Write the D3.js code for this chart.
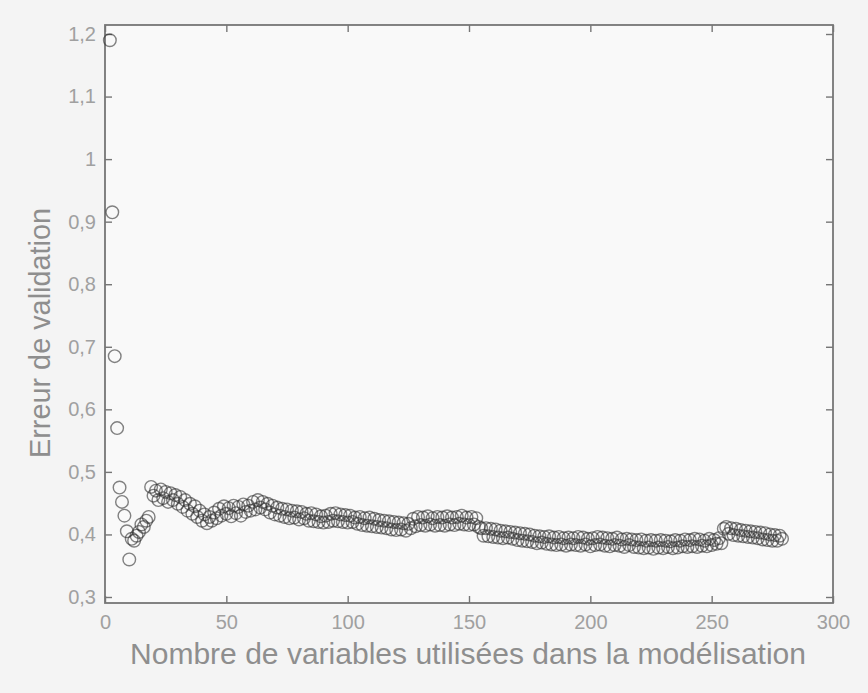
<!DOCTYPE html>
<html>
<head>
<meta charset="utf-8">
<script src="https://cdn.jsdelivr.net/npm/d3@7"></script>
<style>
  html, body { margin: 0; padding: 0; background: #f4f4f4; }
  svg { display: block; }
  text { font-family: "Liberation Sans", Arial, sans-serif; }
</style>
</head>
<body>
<svg id="chart" width="868" height="693"></svg>
<script>
// ---- DATA ----
const firstVariableCount = 2;   // x value of the first point
const validationError = [
  // 2-18
  1.19, 0.915, 0.685, 0.57, 0.475, 0.452, 0.43, 0.405, 0.36, 0.393, 0.39, 0.398, 0.404, 0.416, 0.412, 0.422, 0.428,
  // 19-30
  0.476, 0.462, 0.47, 0.455, 0.472, 0.458, 0.468, 0.452, 0.466, 0.455, 0.463, 0.449,
  // 31-42
  0.46, 0.444, 0.455, 0.438, 0.449, 0.433, 0.445, 0.428, 0.438, 0.422, 0.432, 0.418,
  // 43-54
  0.428, 0.422, 0.435, 0.426, 0.441, 0.43, 0.445, 0.433, 0.442, 0.429, 0.446, 0.434,
  // 55-66
  0.444, 0.43, 0.448, 0.436, 0.446, 0.438, 0.452, 0.44, 0.455, 0.443, 0.452, 0.44,
  // 67-78
  0.449, 0.435, 0.446, 0.432, 0.443, 0.43, 0.441, 0.428, 0.44, 0.426, 0.438, 0.427,
  // 79-90
  0.437, 0.424, 0.436, 0.426, 0.433, 0.422, 0.434, 0.421, 0.432, 0.42, 0.429, 0.419,
  // 91-102
  0.43, 0.42, 0.433, 0.422, 0.434, 0.421, 0.432, 0.42, 0.431, 0.419, 0.43, 0.42,
  // 103-114
  0.427, 0.417, 0.428, 0.415, 0.426, 0.414, 0.427, 0.413, 0.425, 0.412, 0.423, 0.411,
  // 115-126
  0.422, 0.41, 0.421, 0.408, 0.42, 0.407, 0.419, 0.408, 0.418, 0.406, 0.417, 0.41,
  // 127-138
  0.425, 0.413, 0.428, 0.415, 0.427, 0.414, 0.429, 0.416, 0.426, 0.414, 0.428, 0.415,
  // 139-150
  0.427, 0.414, 0.429, 0.416, 0.427, 0.415, 0.428, 0.417, 0.43, 0.416, 0.427, 0.415,
  // 151-156
  0.428, 0.416, 0.426, 0.412, 0.41, 0.398,
  // 157-168
  0.41, 0.397, 0.409, 0.396, 0.408, 0.395, 0.406, 0.394, 0.405, 0.395, 0.404, 0.393,
  // 169-180
  0.403, 0.391, 0.402, 0.39, 0.401, 0.389, 0.4, 0.388, 0.398, 0.386, 0.397, 0.387,
  // 181-192
  0.396, 0.385, 0.397, 0.384, 0.395, 0.383, 0.396, 0.384, 0.394, 0.382, 0.395, 0.384,
  // 193-204
  0.394, 0.383, 0.396, 0.382, 0.395, 0.384, 0.393, 0.381, 0.394, 0.383, 0.396, 0.384,
  // 205-216
  0.395, 0.382, 0.394, 0.381, 0.393, 0.383, 0.395, 0.382, 0.392, 0.38, 0.393, 0.383,
  // 217-228
  0.392, 0.38, 0.391, 0.379, 0.392, 0.378, 0.39, 0.379, 0.391, 0.377, 0.39, 0.379,
  // 229-240
  0.391, 0.378, 0.39, 0.38, 0.389, 0.378, 0.391, 0.379, 0.39, 0.381, 0.392, 0.38,
  // 241-252
  0.391, 0.381, 0.393, 0.38, 0.392, 0.382, 0.39, 0.381, 0.393, 0.383, 0.391, 0.385,
  // 253-264
  0.394, 0.386, 0.409, 0.412, 0.401, 0.41, 0.399, 0.409, 0.398, 0.407, 0.397, 0.406,
  // 265-279
  0.396, 0.405, 0.395, 0.404, 0.394, 0.403, 0.392, 0.402, 0.391, 0.4, 0.39, 0.399, 0.39, 0.398, 0.393
];
const xTicks = [0, 50, 100, 150, 200, 250, 300];
const xTickLabels = ["0", "50", "100", "150", "200", "250", "300"];
const yTicks = [0.3, 0.4, 0.5, 0.6, 0.7, 0.8, 0.9, 1.0, 1.1, 1.2];
const yTickLabels = ["0,3", "0,4", "0,5", "0,6", "0,7", "0,8", "0,9", "1", "1,1", "1,2"];
const xTitle = "Nombre de variables utilisées dans la modélisation";
const yTitle = "Erreur de validation";

// ---- LAYOUT ----
const plotLeft = 105, plotRight = 833, plotTop = 25, plotBottom = 603;
const svg = d3.select("#chart");

const x = d3.scaleLinear().domain([0, 300]).range([plotLeft, plotRight]);
const y = d3.scaleLinear().domain([0.2904, 1.2144]).range([plotBottom, plotTop]);

// plot background
svg.append("rect")
  .attr("x", plotLeft).attr("y", plotTop)
  .attr("width", plotRight - plotLeft).attr("height", plotBottom - plotTop)
  .attr("fill", "#f9f9f9");

const axisColor = "#767676";
const labelColor = "#a0a0a0";
const fmtX = (d, i) => xTickLabels[i];
const fmtY = (d, i) => yTickLabels[i];

function styleAxis(g) {
  g.select(".domain").remove();
  g.selectAll(".tick line").attr("stroke", axisColor).attr("stroke-width", 1.4);
  g.selectAll(".tick text").attr("fill", labelColor).attr("font-size", 20);
}

// bottom axis (ticks inward)
svg.append("g")
  .attr("transform", `translate(0,${plotBottom})`)
  .call(d3.axisBottom(x).tickValues(xTicks).tickFormat(fmtX).tickSizeInner(-7).tickSizeOuter(0).tickPadding(12))
  .call(styleAxis);
// top axis ticks
svg.append("g")
  .attr("transform", `translate(0,${plotTop})`)
  .call(d3.axisTop(x).tickValues(xTicks).tickFormat("").tickSizeInner(-7).tickSizeOuter(0))
  .call(styleAxis);
// left axis
svg.append("g")
  .attr("transform", `translate(${plotLeft},0)`)
  .call(d3.axisLeft(y).tickValues(yTicks).tickFormat(fmtY).tickSizeInner(-7).tickSizeOuter(0).tickPadding(9))
  .call(styleAxis);
// right axis ticks
svg.append("g")
  .attr("transform", `translate(${plotRight},0)`)
  .call(d3.axisRight(y).tickValues(yTicks).tickFormat("").tickSizeInner(-7).tickSizeOuter(0))
  .call(styleAxis);

// frame
svg.append("rect")
  .attr("x", plotLeft).attr("y", plotTop)
  .attr("width", plotRight - plotLeft).attr("height", plotBottom - plotTop)
  .attr("fill", "none").attr("stroke", axisColor).attr("stroke-width", 1.8);

// points
svg.append("g")
  .selectAll("circle")
  .data(validationError)
  .join("circle")
  .attr("cx", (d, i) => x(firstVariableCount + i))
  .attr("cy", d => y(d))
  .attr("r", 6.3)
  .attr("fill", "none")
  .attr("stroke", "#303030")
  .attr("stroke-opacity", 0.6)
  .attr("stroke-width", 1.4);

// titles
svg.append("text")
  .attr("x", (plotLeft + plotRight) / 2 - 1).attr("y", 664)
  .attr("text-anchor", "middle")
  .attr("fill", "#8e8e8e")
  .attr("font-size", 29)
  .attr("textLength", 676)
  .attr("lengthAdjust", "spacingAndGlyphs")
  .text(xTitle);

svg.append("text")
  .attr("transform", `translate(50,333) rotate(-90)`)
  .attr("text-anchor", "middle")
  .attr("fill", "#8e8e8e")
  .attr("font-size", 29)
  .attr("textLength", 250)
  .attr("lengthAdjust", "spacingAndGlyphs")
  .text(yTitle);
</script>
</body>
</html>
